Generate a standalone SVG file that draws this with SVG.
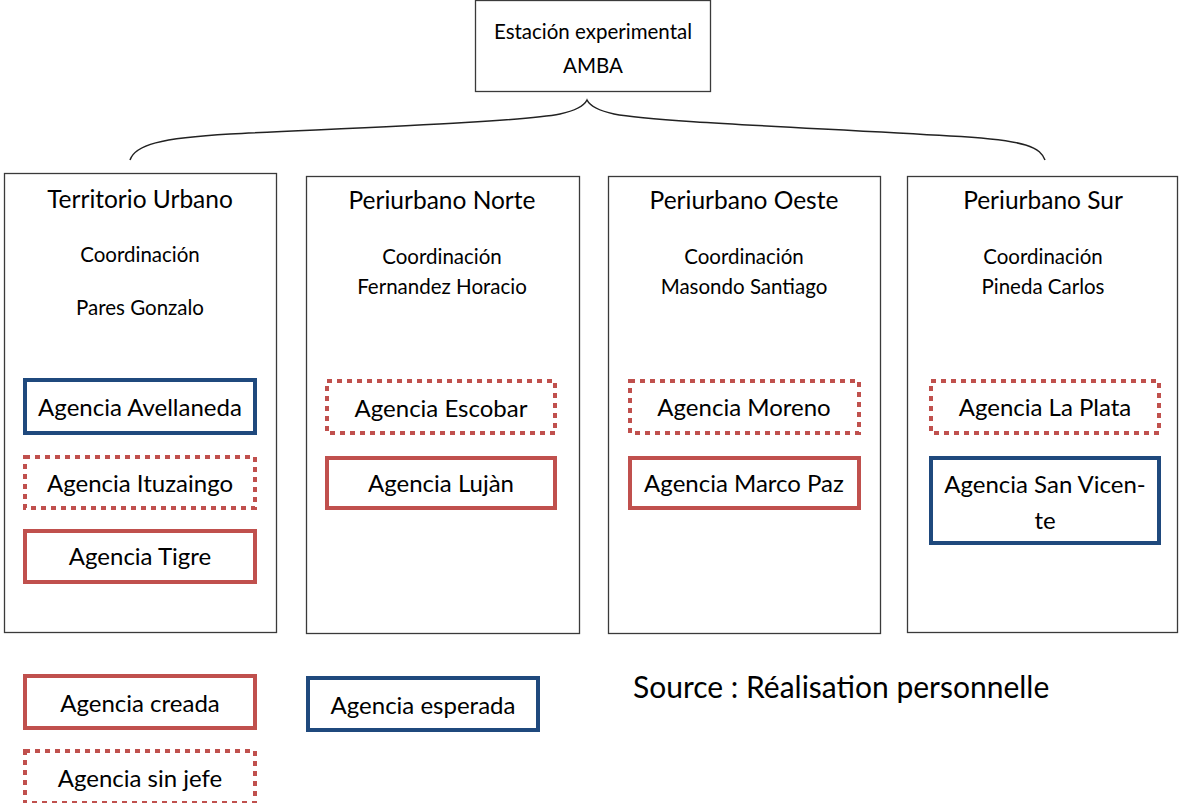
<svg xmlns="http://www.w3.org/2000/svg" width="1180" height="803" viewBox="0 0 1180 803">
  <style>
    text { font-family: Lato, "Liberation Sans", sans-serif; fill: #000; text-anchor: middle; }
    .frame { fill: #fff; stroke: #3a3a3a; stroke-width: 1.3; }
    .created { fill: #fff; stroke: #C0504D; stroke-width: 4; }
    .nochief { fill: #fff; stroke: #C0504D; stroke-width: 4; stroke-dasharray: 5 5; }
    .expected { fill: #fff; stroke: #1F497D; stroke-width: 4; }
    .title { font-size: 24.5px; }
    .coord { font-size: 20.5px; }
    .agency { font-size: 24px; }
    .source { font-size: 30px; text-anchor: start; }
    .brace { fill: none; stroke: #222; stroke-width: 1.5; }
  </style>
  <rect width="1180" height="803" fill="#fff"/>

  <g id="connectors">
    <path class="brace" d="M130,160 C135,145 160,138 230,134 C350,128 520,122 560,114 C578,110 585,104 587,100 C589,104 596,110 614,114 C654,122 820,128 950,136 C1030,140 1040,148 1045,160"/>
  </g>

  <g id="estacion">
    <rect class="frame" x="475.5" y="0.5" width="235" height="91"/>
    <text x="593" y="39" class="coord">Estación experimental</text>
    <text x="593" y="73" class="coord">AMBA</text>
  </g>

  <g id="territorio-urbano">
    <rect class="frame" x="4.5" y="173.5" width="272" height="459"/>
    <text x="140" y="208" class="title">Territorio Urbano</text>
    <text x="140" y="262" class="coord">Coordinación</text>
    <text x="140" y="315" class="coord">Pares Gonzalo</text>
  </g>
  <g id="periurbano-norte">
    <rect class="frame" x="306.5" y="176.5" width="273" height="457"/>
    <text x="442" y="209" class="title">Periurbano Norte</text>
    <text x="442" y="264" class="coord">Coordinación</text>
    <text x="442" y="294" class="coord">Fernandez Horacio</text>
  </g>
  <g id="periurbano-oeste">
    <rect class="frame" x="608.5" y="176.5" width="272" height="457"/>
    <text x="744" y="209" class="title">Periurbano Oeste</text>
    <text x="744" y="264" class="coord">Coordinación</text>
    <text x="744" y="294" class="coord">Masondo Santiago</text>
  </g>
  <g id="periurbano-sur">
    <rect class="frame" x="907.5" y="176.5" width="270" height="456"/>
    <text x="1043" y="209" class="title">Periurbano Sur</text>
    <text x="1043" y="264" class="coord">Coordinación</text>
    <text x="1043" y="294" class="coord">Pineda Carlos</text>
  </g>

  <g id="agencia-avellaneda">
    <rect class="expected" x="25" y="380" width="230" height="53"/>
    <text x="140" y="416" class="agency">Agencia Avellaneda</text>
  </g>
  <g id="agencia-ituzaingo">
    <rect class="nochief" x="25" y="457" width="230" height="51"/>
    <text x="140" y="492" class="agency">Agencia Ituzaingo</text>
  </g>
  <g id="agencia-tigre">
    <rect class="created" x="25" y="531" width="230" height="51"/>
    <text x="140" y="565" class="agency">Agencia Tigre</text>
  </g>

  <g id="agencia-escobar">
    <rect class="nochief" x="327" y="381" width="228" height="52"/>
    <text x="441" y="417" class="agency">Agencia Escobar</text>
  </g>
  <g id="agencia-lujan">
    <rect class="created" x="327" y="458" width="228" height="50"/>
    <text x="441" y="492" class="agency">Agencia Lujàn</text>
  </g>

  <g id="agencia-moreno">
    <rect class="nochief" x="630" y="381" width="229" height="52"/>
    <text x="744" y="416" class="agency">Agencia Moreno</text>
  </g>
  <g id="agencia-marco-paz">
    <rect class="created" x="630" y="458" width="229" height="50"/>
    <text x="744" y="492" class="agency">Agencia Marco Paz</text>
  </g>

  <g id="agencia-la-plata">
    <rect class="nochief" x="931" y="381" width="228" height="52"/>
    <text x="1045" y="416" class="agency">Agencia La Plata</text>
  </g>
  <g id="agencia-san-vicente">
    <rect class="expected" x="931" y="458" width="228" height="85"/>
    <text x="1045" y="493" class="agency">Agencia San Vicen-</text>
    <text x="1045" y="529" class="agency">te</text>
  </g>

  <g id="legend-creada">
    <rect class="created" x="25" y="676" width="230" height="52"/>
    <text x="140" y="712" class="agency">Agencia creada</text>
  </g>
  <g id="legend-esperada">
    <rect class="expected" x="308" y="678" width="230" height="52"/>
    <text x="423" y="714" class="agency">Agencia esperada</text>
  </g>
  <g id="legend-sin-jefe">
    <rect class="nochief" x="25" y="751" width="230" height="52"/>
    <text x="140" y="787" class="agency">Agencia sin jefe</text>
  </g>

  <text x="633" y="698" class="source">Source : Réalisation personnelle</text>
</svg>
